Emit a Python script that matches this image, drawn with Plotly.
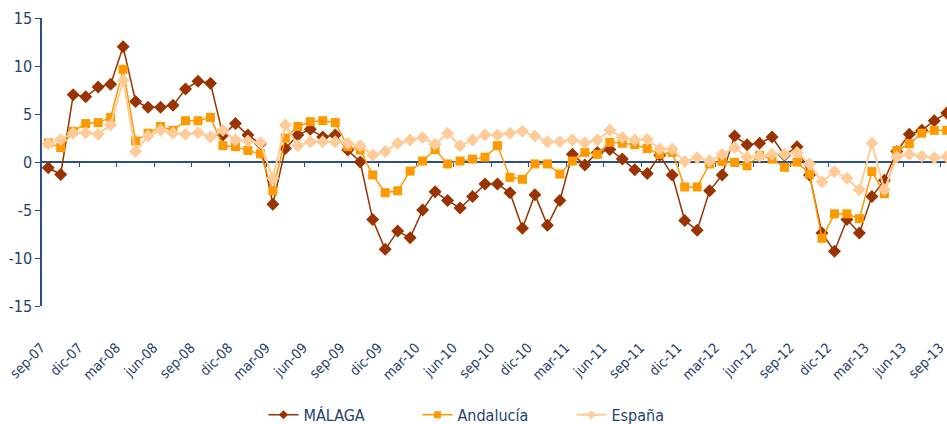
import plotly.graph_objects as go

# Monthly year-on-year change (%), sep-07 .. sep-13
MONTH_NAMES = ["ene", "feb", "mar", "abr", "may", "jun",
               "jul", "ago", "sep", "oct", "nov", "dic"]
MONTHS = [f"{MONTH_NAMES[(8 + k) % 12]}-{(7 + (8 + k) // 12):02d}" for k in range(73)]

MALAGA = [
    -0.6, -1.3, 7.0, 6.8, 7.8, 8.1, 12.0, 6.3, 5.7, 5.7, 5.9, 7.6,
    8.4, 8.2, 2.8, 4.0, 2.8, 1.9, -4.4, 1.4, 2.8, 3.4, 2.6, 2.8,
    1.25, 0.0, -6.0, -9.1, -7.2, -7.9, -5.0, -3.1, -4.0, -4.8, -3.6, -2.3,
    -2.3, -3.2, -6.9, -3.4, -6.6, -4.0, 0.8, -0.3, 1.0, 1.3, 0.3, -0.8,
    -1.2, 0.7, -1.35, -6.1, -7.1, -3.0, -1.35, 2.7, 1.8, 1.95, 2.6, 0.7,
    1.6, -1.35, -7.4, -9.3, -6.0, -7.4, -3.6, -1.9, 1.1, 2.9, 3.3, 4.3,
    5.1,
]
ANDALUCIA = [
    2.0, 1.5, 3.2, 4.0, 4.1, 4.65, 9.65, 2.2, 3.0, 3.7, 3.3, 4.3,
    4.3, 4.65, 1.7, 1.6, 1.2, 0.85, -3.0, 2.5, 3.7, 4.2, 4.3, 4.1,
    1.6, 1.25, -1.35, -3.2, -3.0, -0.95, 0.1, 1.3, -0.2, 0.1, 0.3, 0.5,
    1.7, -1.6, -1.8, -0.2, -0.2, -1.25, 0.1, 1.0, 0.8, 2.05, 1.95, 1.8,
    1.4, 0.8, 1.0, -2.6, -2.6, -0.2, 0.05, -0.05, -0.4, 0.7, 0.3, -0.55,
    0.0, -1.25, -7.95, -5.4, -5.4, -5.9, -1.0, -3.3, 1.2, 1.9, 3.0, 3.3,
    3.3,
]
ESPANA = [
    1.9, 2.35, 3.0, 3.05, 2.9, 3.85, 8.5, 1.1, 2.7, 3.3, 3.0, 2.9,
    3.05, 2.6, 3.3, 2.3, 2.2, 2.0, -1.7, 3.85, 1.7, 2.1, 2.1, 2.1,
    1.95, 1.7, 0.7, 1.1, 1.95, 2.3, 2.55, 1.85, 3.0, 1.7, 2.3, 2.8,
    2.8, 3.0, 3.2, 2.7, 2.1, 2.1, 2.3, 2.0, 2.3, 3.3, 2.55, 2.3,
    2.35, 1.35, 1.35, 0.05, 0.45, 0.1, 0.8, 1.5, 0.5, 0.6, 0.8, 0.8,
    1.0, -0.2, -2.05, -1.0, -1.7, -2.9, 1.95, -2.9, 0.55, 0.8, 0.6, 0.45,
    0.55,
]

X = list(range(len(MONTHS)))
TICK_POS = X[::3]
TICK_LABELS = [MONTHS[i] for i in TICK_POS]
Y_TICKS = [15, 10, 5, 0, -5, -10, -15]
Y_LABELS = [str(v) for v in Y_TICKS]

SERIES = [
    ("MÁLAGA", MALAGA, "#993300", "diamond", 10, 1.5, "x"),
    ("Andalucía", ANDALUCIA, "#FF9900", "square", 9, 1.5, "x"),
    ("España", ESPANA, "#FFCC99", "diamond", 10, 2.0, "x2"),
]
LEGEND_MARKER = {"diamond": 7, "square": 7}

NAVY = "#1F3F6E"
AXIS = "#2B4F80"
FONT = "DejaVu Sans Condensed, Liberation Sans Narrow, Arial Narrow, sans-serif"

W, H = 947, 424
T, B = 18, 94            # paper spans pixels 18..330
PLOT_BOTTOM = 306        # y = -15 sits here
paper_h = H - T - B
y_dom_bottom = (H - B - PLOT_BOTTOM) / paper_h
zero_pos = y_dom_bottom + (1 - y_dom_bottom) / 2

x_range = [-0.5, 72.02]

fig = go.Figure()
for name, values, color, symbol, size, lw, xa in SERIES:
    fig.add_trace(go.Scatter(
        x=X, y=values, name=name, mode="lines+markers", xaxis=xa,
        line=dict(color=color, width=lw),
        marker=dict(symbol=symbol, size=size, color=color),
        cliponaxis=False, showlegend=False, legendgroup=name,
    ))
# legend entries with smaller sample markers
for name, values, color, symbol, size, lw, xa in SERIES:
    fig.add_trace(go.Scatter(
        x=[None], y=[None], name=name, mode="lines+markers", xaxis=xa,
        line=dict(color=color, width=lw),
        marker=dict(symbol=symbol, size=LEGEND_MARKER[symbol], color=color),
        showlegend=True, legendgroup=name,
    ))

fig.update_layout(
    width=W, height=H,
    margin=dict(l=42, r=0, t=T, b=B, autoexpand=False),
    paper_bgcolor="white", plot_bgcolor="white",
    font=dict(family=FONT, color=NAVY),
    showlegend=True,
    legend=dict(
        orientation="h", x=0.5, xanchor="center", xref="paper",
        y=-0.272, yanchor="middle",
        font=dict(size=16, color=NAVY, family=FONT),
        entrywidth=109, entrywidthmode="pixels",
        traceorder="normal",
    ),
    xaxis=dict(
        range=x_range, domain=[0, 1],
        anchor="free", position=0,
        tickmode="array", tickvals=TICK_POS, ticktext=TICK_LABELS,
        tickangle=-45, ticks="", showline=False, showgrid=False,
        zeroline=False, automargin=False,
        ticklabelstandoff=6, ticklabelshift=-7, ticklabeloverflow="allow",
        tickfont=dict(size=14, color=NAVY, family=FONT),
    ),
    xaxis2=dict(
        range=x_range, overlaying="x", matches="x",
        anchor="free", position=zero_pos,
        showticklabels=False, showgrid=False, zeroline=False,
        showline=False,
        tickmode="array", tickvals=[p + 2.5 for p in TICK_POS],
        ticks="outside", ticklen=4, tickwidth=1, tickcolor=AXIS,
        layer="below traces",
    ),
    yaxis=dict(
        range=[-15, 15], domain=[y_dom_bottom, 1],
        tickmode="array", tickvals=Y_TICKS, ticktext=Y_LABELS,
        ticks="outside", ticklen=5, tickcolor=AXIS, tickwidth=1,
        showline=True, linecolor=AXIS, linewidth=1.5,
        showgrid=False, automargin=False,
        zeroline=True, zerolinecolor=AXIS, zerolinewidth=1.5,
        tickfont=dict(size=16, color=NAVY, family=FONT),
        layer="below traces",
    ),
)

fig.write_html("out.html")
